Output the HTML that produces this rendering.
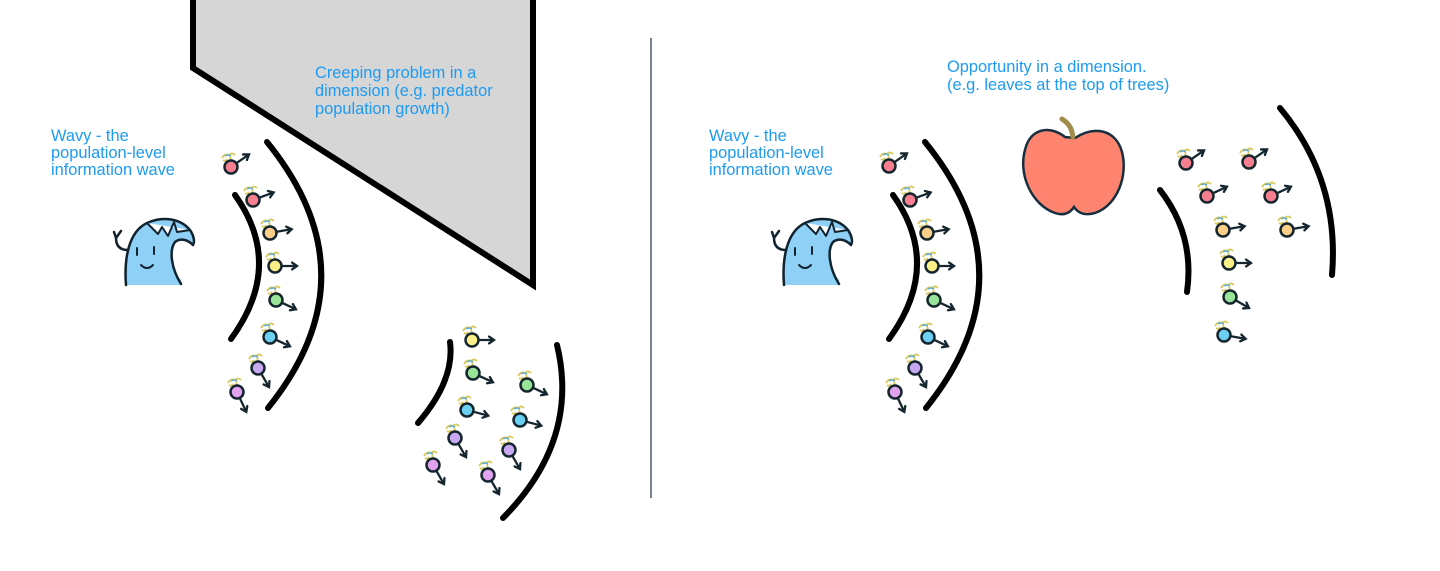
<!DOCTYPE html>
<html><head><meta charset="utf-8"><style>
html,body{margin:0;padding:0;background:#fff;}
svg{display:block}
text{font-family:"Liberation Sans",sans-serif;font-size:16.4px;fill:#1d9bf2}
</style></head><body>
<svg id="s" width="1440" height="571" viewBox="0 0 1440 571" xmlns="http://www.w3.org/2000/svg">
<defs>
<g id="wavy">
  <path d="M24,75 C22,50 26,22 45,13 C60,6 78,8 88,20 C92,26 93,32 91,35 C85,29 78,28 73,32 C67,40 69,58 79,70 L80,75 Z" fill="#8fd0f7"/>
  <path d="M24,75 C22,50 26,22 45,13 C60,6 78,8 88,20 C92,26 93,32 91,35 C85,29 78,28 73,32 C67,40 69,58 79,74" fill="none" stroke="#10232e" stroke-width="2.5" stroke-linecap="round" stroke-linejoin="round"/>
  <path d="M45,13 L56,24 L60,17 L66,26 L72,12 L75,22 L88,20" fill="#fff" stroke="#10232e" stroke-width="2" stroke-linejoin="round"/>
  <path d="M26,40 C18,40 14,36 14,28 L12,22 M14,28 L19,21" fill="none" stroke="#10232e" stroke-width="2.5" stroke-linecap="round"/>
  <line x1="35" y1="38" x2="35" y2="45" stroke="#10232e" stroke-width="2" stroke-linecap="round"/>
  <line x1="52" y1="37" x2="52" y2="44" stroke="#10232e" stroke-width="2" stroke-linecap="round"/>
  <path d="M39,55 Q45,61 51,55" fill="none" stroke="#10232e" stroke-width="2" stroke-linecap="round"/>
</g>
</defs>
<polygon points="193,-5 193,68 533,285 533,-5" fill="#d6d6d6" stroke="#000" stroke-width="6" stroke-linejoin="miter"/>
<line x1="651" y1="38" x2="651" y2="498" stroke="#4a5a6a" stroke-width="1.5"/>
<g fill="none" stroke="#000" stroke-width="6" stroke-linecap="round">
  <path d="M235,195 Q285,265 231,339"/>
  <path d="M267,142 Q375,275 268,408"/>
  <path d="M450,342 Q455,380 418,423"/>
  <path d="M557,345 Q580,440 503,518"/>
  <path d="M893,195 Q943,265 889,339"/>
  <path d="M925,142 Q1033,275 926,408"/>
  <path d="M1160,190 Q1195,235 1187,292"/>
  <path d="M1280,108 Q1340,180 1332,275"/>
</g>
<use href="#wavy" x="102" y="210"/>
<use href="#wavy" x="760" y="210"/>
<path d="M1065,137 C1050,125 1030,128 1025,150 C1018,175 1032,205 1055,213 C1064,216 1070,213 1074,207 C1078,213 1085,216 1095,213 C1118,205 1128,175 1122,152 C1116,130 1095,125 1075,138 Z" fill="#ff8470" stroke="#173040" stroke-width="2.5"/>
<path d="M1073,137 C1072,130 1070,124 1062,119" fill="none" stroke="#a08b4a" stroke-width="5" stroke-linecap="round"/>
<text x="51" y="141">Wavy - the</text>
<text x="51" y="158">population-level</text>
<text x="51" y="175">information wave</text>
<text x="709" y="141">Wavy - the</text>
<text x="709" y="158">population-level</text>
<text x="709" y="175">information wave</text>
<text x="315" y="78">Creeping problem in a</text>
<text x="315" y="96">dimension (e.g. predator</text>
<text x="315" y="114">population growth)</text>
<text x="947" y="72">Opportunity in a dimension.</text>
<text x="947" y="90">(e.g. leaves at the top of trees)</text>
<g id="parts"></g>
</svg>
<script>
var P=[
[231,167,'#f77f8f',-35],[253,200,'#f77f8f',-20],[270,233,'#fbcf88',-10],[275,266,'#fbef88',0],[276,300,'#98e498',25],[270,337,'#6cd0f2',25],[258,368,'#c8a8f2',60],[237,392,'#e2a2ee',65],
[472,340,'#fbef88',0],[473,373,'#98e498',25],[527,385,'#98e498',25],[467,410,'#6cd0f2',15],[520,420,'#6cd0f2',15],[455,438,'#c8a8f2',60],[509,450,'#c8a8f2',60],[433,465,'#e2a2ee',60],[488,475,'#e2a2ee',60],
[889,166,'#f77f8f',-35],[910,200,'#f77f8f',-20],[927,233,'#fbcf88',-10],[932,266,'#fbef88',0],[934,300,'#98e498',25],[928,337,'#6cd0f2',25],[915,368,'#c8a8f2',60],[895,392,'#e2a2ee',65],
[1186,163,'#f77f8f',-35],[1249,162,'#f77f8f',-35],[1207,196,'#f77f8f',-25],[1271,196,'#f77f8f',-25],[1223,230,'#fbcf88',-10],[1287,230,'#fbcf88',-10],[1229,263,'#fbef88',0],[1230,297,'#98e498',30],[1224,335,'#6cd0f2',10]];
var s='';
P.forEach(function(p){
 var x=p[0],y=p[1],a=p[3]*Math.PI/180,c=Math.cos(a),n=Math.sin(a);
 var x1=x+7*c,y1=y+7*n,x2=x+22*c,y2=y+22*n;
 var ha=0.6,hl=6;
 var l1x=x2-hl*Math.cos(a-ha),l1y=y2-hl*Math.sin(a-ha),l2x=x2-hl*Math.cos(a+ha),l2y=y2-hl*Math.sin(a+ha);
 s+='<path d="M'+(x-9)+','+(y-9)+' q3,-5 7,-3 q3,-3 6,0 M'+(x-8)+','+(y-7)+' q2,2 4,-1 M'+x+','+(y-6)+' l-1,-6" fill="none" stroke="#d9c95a" stroke-width="1.8"/>';
 s+='<path d="M'+(x-6)+','+(y-11)+' q3,-2 6,0" fill="none" stroke="#5bb0d8" stroke-width="1.5"/>';
 s+='<circle cx="'+x+'" cy="'+y+'" r="6.5" fill="'+p[2]+'" stroke="#15262f" stroke-width="2.5"/>';
 s+='<path d="M'+x1+','+y1+' L'+x2+','+y2+' M'+l1x+','+l1y+' L'+x2+','+y2+' L'+l2x+','+l2y+'" fill="none" stroke="#15262f" stroke-width="2.3" stroke-linecap="round"/>';
});
document.getElementById('parts').innerHTML=s;
</script>
</body></html>
